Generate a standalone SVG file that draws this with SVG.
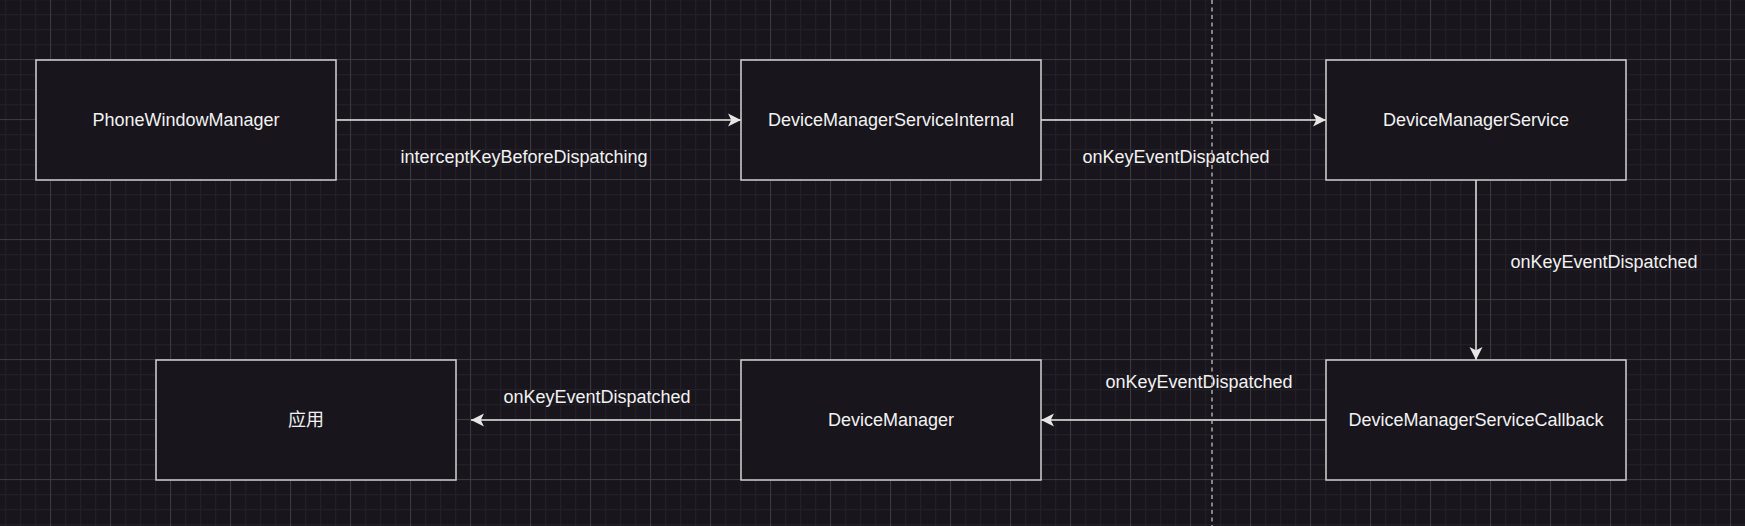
<svg xmlns="http://www.w3.org/2000/svg" width="1745" height="526" viewBox="0 0 1745 526">
<style>
.node rect{fill:#18151c;stroke:#d2d2d2;stroke-width:1.5}
.node text,.lbl{font-family:"Liberation Sans",Arial,"Noto Sans CJK SC",sans-serif;font-size:18px;fill:#f2f2f2;text-anchor:middle}
.edge{stroke:#e6e6e6;stroke-width:1.5;fill:none}
</style>
<defs>
<pattern id="minor" patternUnits="userSpaceOnUse" x="50" y="59" width="15" height="15">
<path d="M0.5,0V15M0,0.5H15" stroke="#222026" stroke-width="1.5"/>
</pattern>
<pattern id="major" patternUnits="userSpaceOnUse" x="50" y="59" width="60" height="60">
<path d="M0.5,0V60M0,0.5H60" stroke="#3a393e" stroke-width="1"/>
</pattern>
<marker id="arr" markerUnits="userSpaceOnUse" markerWidth="16" markerHeight="16" viewBox="-14 -8 16 16" refX="0" refY="0" orient="auto">
<path d="M0,0L-13,-6.5L-9.75,0L-13,6.5Z" fill="#e6e6e6"/>
</marker>
</defs>
<rect width="1745" height="526" fill="#18161c"/>
<rect width="1745" height="526" fill="url(#minor)"/>
<rect width="1745" height="526" fill="url(#major)"/>
<g id="connectors">
<path class="edge" d="M336,120H741" marker-end="url(#arr)"/>
<text class="lbl" x="524" y="163">interceptKeyBeforeDispatching</text>
<path class="edge" d="M1041,120H1326" marker-end="url(#arr)"/>
<text class="lbl" x="1176" y="163">onKeyEventDispatched</text>
<path class="edge" d="M1476,180V360" marker-end="url(#arr)"/>
<text class="lbl" x="1604" y="268">onKeyEventDispatched</text>
<path class="edge" d="M1326,420H1041" marker-end="url(#arr)"/>
<text class="lbl" x="1199" y="388">onKeyEventDispatched</text>
<path class="edge" d="M741,420H471" marker-end="url(#arr)"/>
<text class="lbl" x="597" y="403">onKeyEventDispatched</text>
</g>
<g id="n-pwm" class="node"><rect x="36" y="60" width="300" height="120"/><text x="186" y="126">PhoneWindowManager</text></g>
<g id="n-dmsi" class="node"><rect x="741" y="60" width="300" height="120"/><text x="891" y="126">DeviceManagerServiceInternal</text></g>
<g id="n-dms" class="node"><rect x="1326" y="60" width="300" height="120"/><text x="1476" y="126">DeviceManagerService</text></g>
<g id="n-app" class="node"><rect x="156" y="360" width="300" height="120"/><text x="306" y="426">应用</text></g>
<g id="n-dm" class="node"><rect x="741" y="360" width="300" height="120"/><text x="891" y="426">DeviceManager</text></g>
<g id="n-dmscb" class="node"><rect x="1326" y="360" width="300" height="120"/><text x="1476" y="426">DeviceManagerServiceCallback</text></g>
<g id="divider"><path d="M1212,0V526" stroke="#a8a8a8" stroke-width="1.5" stroke-dasharray="4 3.5" fill="none"/></g>
</svg>
